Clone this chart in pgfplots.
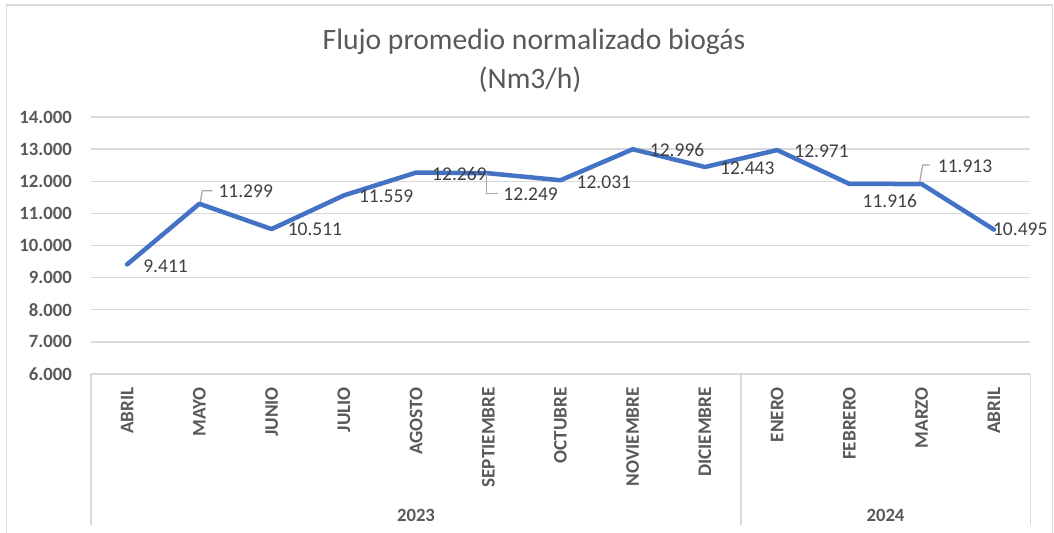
\documentclass[border=0pt]{standalone}
\usepackage{pgfplots}
\pgfplotsset{compat=1.18}
\usepackage{fontspec}
\setmainfont{Carlito}
\definecolor{lineblue}{HTML}{4472C4}
\definecolor{gridgray}{HTML}{D9D9D9}
\definecolor{ticktext}{HTML}{595959}
\definecolor{labeltext}{HTML}{404040}
\definecolor{leadergray}{HTML}{A6A6A6}
\tikzset{lbl/.style={anchor=west, inner sep=0pt, text=labeltext, font=\fontsize{19.5bp}{23bp}\selectfont}}
\begin{document}
\begin{tikzpicture}[x=1bp,y=1bp]
\useasboundingbox (0,0) rectangle (1054,533);
\fill[white] (0,0) rectangle (1054,533);
\draw[gridgray, line width=1.7bp] (6.5,-2) -- (6.5,528) -- (1052.5,528) -- (1052.5,-2);
\node[anchor=base, text=ticktext, font=\fontsize{29.6bp}{34bp}\selectfont] at (534,483) {Flujo promedio normalizado biogás};
\node[anchor=base, text=ticktext, font=\fontsize{29.6bp}{34bp}\selectfont] at (530,444) {(Nm3/h)};
\begin{axis}[
  at={(91bp,159bp)}, anchor=south west, scale only axis,
  width=939bp, height=257bp,
  xmin=-0.5, xmax=12.5, ymin=6000, ymax=14000,
  clip=false,
  scaled y ticks=false,
  axis line style={draw=none},
  tick style={draw=none},
  major tick length=0pt,
  ymajorgrids, grid style={gridgray, line width=1.3bp},
  ytick={6000,7000,8000,9000,10000,11000,12000,13000,14000},
  yticklabels={6.000,7.000,8.000,9.000,10.000,11.000,12.000,13.000,14.000},
  xtick={0,1,2,3,4,5,6,7,8,9,10,11,12},
  xticklabels={ABRIL,MAYO,JUNIO,JULIO,AGOSTO,SEPTIEMBRE,OCTUBRE,NOVIEMBRE,DICIEMBRE,ENERO,FEBRERO,MARZO,ABRIL},
  yticklabel style={anchor=east, inner sep=0pt, xshift=-19bp, text=ticktext, font=\fontsize{18.7bp}{22bp}\selectfont\bfseries},
  xticklabel style={inner sep=0pt, yshift=-13bp, rotate=90, anchor=east, text=ticktext, font=\fontsize{19.2bp}{22bp}\selectfont\bfseries},
]
\addplot[lineblue, line width=4.5bp, line join=round, line cap=round, mark=none] coordinates {
(0,9411) (1,11299) (2,10511) (3,11559) (4,12269) (5,12249) (6,12031) (7,12996) (8,12443) (9,12971) (10,11916) (11,11913) (12,10495)
};
\draw[leadergray, line width=1.2bp] (axis cs:1,11299) ++(1bp,2bp) -- ++(2bp,11bp) -- ++(10bp,0bp);
\draw[leadergray, line width=1.2bp] (axis cs:5,12249) ++(-2bp,0bp) -- ++(0bp,-20bp) -- ++(12bp,0bp);
\draw[leadergray, line width=1.2bp] (axis cs:11,11913) ++(-2bp,2bp) -- ++(3bp,17bp) -- ++(7bp,0bp);
\node[lbl, xshift=16bp, yshift=-1.5bp] at (axis cs:0,9411) {9.411};
\node[lbl, xshift=19bp, yshift=13bp] at (axis cs:1,11299) {11.299};
\node[lbl, xshift=16bp, yshift=0bp] at (axis cs:2,10511) {10.511};
\node[lbl, xshift=15bp, yshift=-1bp] at (axis cs:3,11559) {11.559};
\node[lbl, xshift=16bp, yshift=-1bp] at (axis cs:4,12269) {12.269};
\node[lbl, xshift=15bp, yshift=-21bp] at (axis cs:5,12249) {12.249};
\node[lbl, xshift=16bp, yshift=-2bp] at (axis cs:6,12031) {12.031};
\node[lbl, xshift=17bp, yshift=-1bp] at (axis cs:7,12996) {12.996};
\node[lbl, xshift=15bp, yshift=-1bp] at (axis cs:8,12443) {12.443};
\node[lbl, xshift=17bp, yshift=-1bp] at (axis cs:9,12971) {12.971};
\node[lbl, xshift=13bp, yshift=-17bp] at (axis cs:10,11916) {11.916};
\node[lbl, xshift=16bp, yshift=18bp] at (axis cs:11,11913) {11.913};
\node[lbl, xshift=-1bp, yshift=0bp] at (axis cs:12,10495) {10.495};
\end{axis}
\draw[gridgray, line width=1.3bp] (91,159) -- (91,8);
\draw[gridgray, line width=1.3bp] (741,159) -- (741,8);
\draw[gridgray, line width=1.3bp] (1030.5,159) -- (1030.5,8);
\node[text=ticktext, inner sep=0pt, font=\fontsize{18.7bp}{22bp}\selectfont\bfseries] at (416,18) {2023};
\node[text=ticktext, inner sep=0pt, font=\fontsize{18.7bp}{22bp}\selectfont\bfseries] at (885.5,18) {2024};
\end{tikzpicture}
\end{document}
